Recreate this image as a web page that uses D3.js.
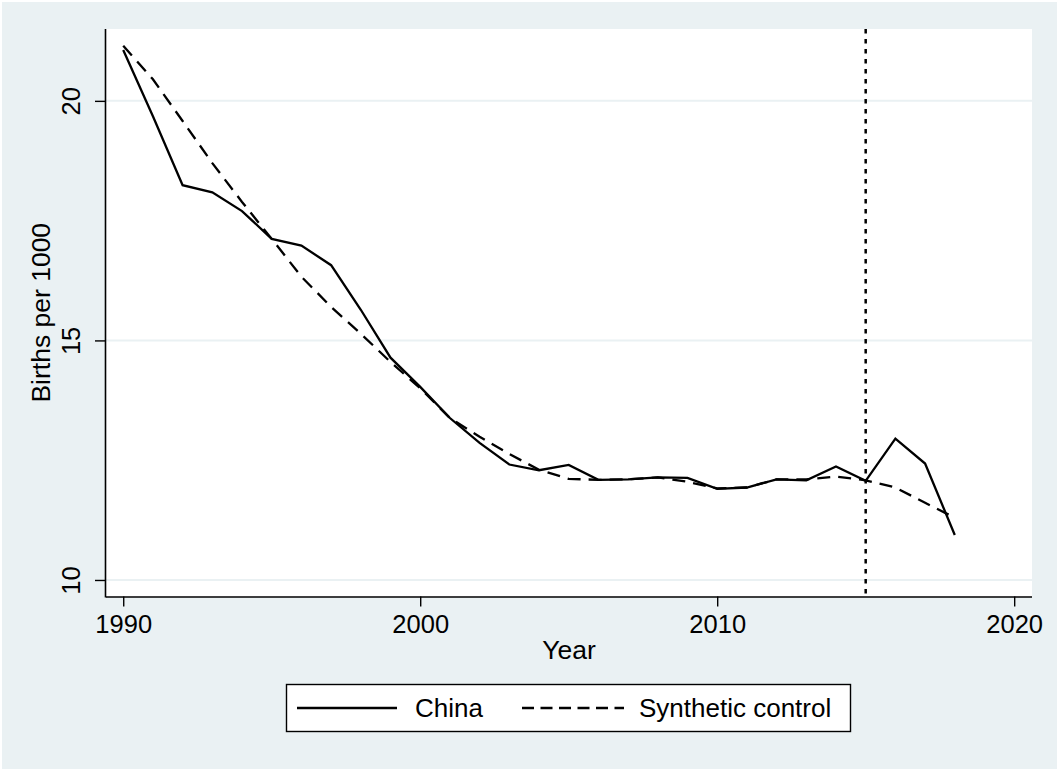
<!DOCTYPE html>
<html>
<head>
<meta charset="utf-8">
<script src="https://cdn.jsdelivr.net/npm/d3@7"></script>
<style>
html,body{margin:0;padding:0;background:#fff;}
svg{display:block;font-family:"Liberation Sans",Arial,sans-serif;}
</style>
</head>
<body>
<svg id="chart" width="1057" height="769"></svg>
<script>
const years = [1990,1991,1992,1993,1994,1995,1996,1997,1998,1999,2000,2001,2002,2003,2004,2005,2006,2007,2008,2009,2010,2011,2012,2013,2014,2015,2016,2017,2018];
const china = [21.06,19.68,18.24,18.09,17.70,17.12,16.98,16.57,15.64,14.64,14.03,13.38,12.86,12.41,12.29,12.40,12.09,12.10,12.14,12.13,11.90,11.93,12.10,12.08,12.37,12.07,12.95,12.43,10.94];
const synthetic = [21.15,20.45,19.58,18.70,17.89,17.12,16.33,15.70,15.14,14.55,14.00,13.38,12.99,12.63,12.30,12.11,12.09,12.10,12.14,12.05,11.91,11.93,12.10,12.10,12.16,12.08,11.93,11.61,11.30];
const xTicks = [1990,2000,2010,2020];
const yTicks = [10,15,20];
const treatmentYear = 2015;
const seriesNames = ["China","Synthetic control"];

const W = 1057, H = 769;
const plot = {left:106, right:1032, top:29, bottom:596.5};
const bg = "#eaf1f3";

const svg = d3.select("#chart");
svg.append("rect").attr("x",2).attr("y",2).attr("width",W-2).attr("height",H-2).attr("fill",bg);
svg.append("rect").attr("x",plot.left).attr("y",plot.top)
  .attr("width",plot.right-plot.left).attr("height",plot.bottom-plot.top).attr("fill","#fff");

const x = d3.scaleLinear().domain([1989.42,2020.6]).range([plot.left,plot.right]);
const y = d3.scaleLinear().domain([9.655,21.5]).range([plot.bottom,plot.top]);

// gridlines
svg.append("g").selectAll("line").data(yTicks).join("line")
  .attr("x1",plot.left).attr("x2",plot.right)
  .attr("y1",d=>y(d)).attr("y2",d=>y(d))
  .attr("stroke",bg).attr("stroke-width",2);

// vertical treatment line
svg.append("line")
  .attr("x1",x(treatmentYear)).attr("x2",x(treatmentYear))
  .attr("y1",plot.top).attr("y2",plot.bottom)
  .attr("stroke","#000").attr("stroke-width",2.5).attr("stroke-dasharray","4.5,5.5");

const line = d3.line().x((d,i)=>x(years[i])).y(d=>y(d));
svg.append("path").datum(synthetic).attr("d",line).attr("fill","none")
  .attr("stroke","#000").attr("stroke-width",2.3).attr("stroke-dasharray","13,8");
svg.append("path").datum(china).attr("d",line).attr("fill","none")
  .attr("stroke","#000").attr("stroke-width",2.3).attr("stroke-linejoin","miter");

// axes
const xAxis = d3.axisBottom(x).tickValues(xTicks).tickSize(10).tickPadding(6).tickFormat(d3.format("d"));
const gx = svg.append("g").attr("transform",`translate(0,${plot.bottom})`).call(xAxis);
gx.select(".domain").attr("d",`M${plot.left},0.5H${plot.right}`).attr("stroke","#000").attr("stroke-width",1.6);
gx.selectAll(".tick line").attr("stroke","#000").attr("stroke-width",1.4);
gx.selectAll(".tick text").attr("font-size","25.5px").attr("fill","#000")
  .attr("font-family","'Liberation Sans',Arial,sans-serif").attr("dy","0.71em").attr("y",18.5);

const yAxis = d3.axisLeft(y).tickValues(yTicks).tickSize(11).tickFormat(d3.format("d"));
const gy = svg.append("g").attr("transform",`translate(${plot.left},0)`).call(yAxis);
gy.select(".domain").attr("d",`M-0.5,${plot.top}V${plot.bottom+1}`).attr("stroke","#000").attr("stroke-width",1.6);
gy.selectAll(".tick line").attr("stroke","#000").attr("stroke-width",1.4);
gy.selectAll(".tick text").attr("font-size","25.5px").attr("fill","#000")
  .attr("font-family","'Liberation Sans',Arial,sans-serif")
  .attr("x",null).attr("dy",null)
  .attr("text-anchor","middle")
  .attr("transform","translate(-26,0) rotate(-90)");

// axis titles
svg.append("text").attr("x",(plot.left+plot.right)/2).attr("y",659)
  .attr("text-anchor","middle").attr("font-size","26.5px").text("Year");
svg.append("text").attr("transform",`translate(50,${(plot.top+plot.bottom)/2}) rotate(-90)`)
  .attr("text-anchor","middle").attr("font-size","26.5px").text("Births per 1000");

// legend
const lg = svg.append("g");
lg.append("rect").attr("x",286.5).attr("y",684.5).attr("width",564).attr("height",47)
  .attr("fill","#fff").attr("stroke","#000").attr("stroke-width",1.4);
lg.append("line").attr("x1",297).attr("x2",397).attr("y1",708).attr("y2",708)
  .attr("stroke","#000").attr("stroke-width",2.3);
lg.append("text").attr("x",415).attr("y",717).attr("font-size","26px").text(seriesNames[0]);
lg.append("line").attr("x1",522).attr("x2",624).attr("y1",708).attr("y2",708)
  .attr("stroke","#000").attr("stroke-width",2.3).attr("stroke-dasharray","12,6.5");
lg.append("text").attr("x",639).attr("y",717).attr("font-size","26px").text(seriesNames[1]);
</script>
</body>
</html>
